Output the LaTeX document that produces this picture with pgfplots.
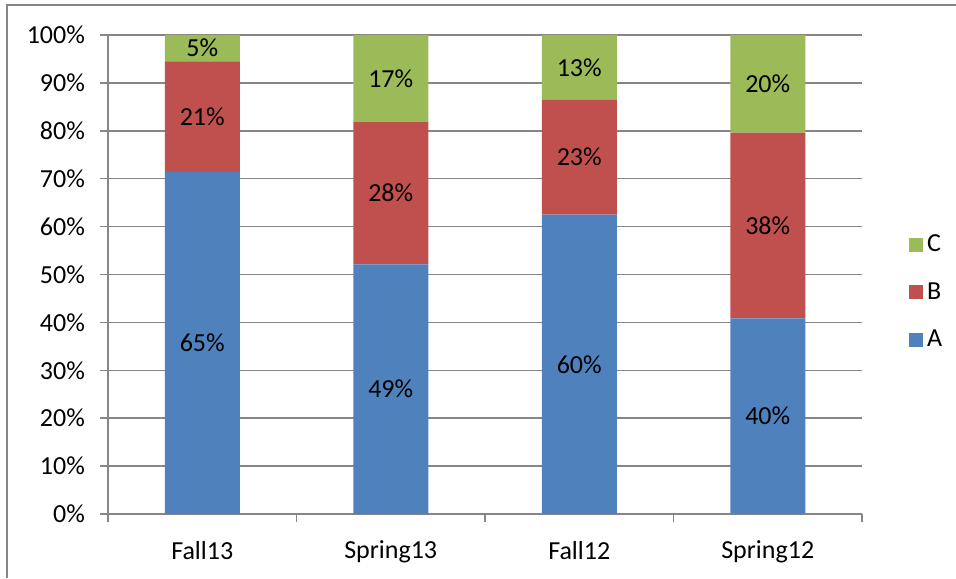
\documentclass[border=0pt]{standalone}
\usepackage{pgfplots}
\pgfplotsset{compat=1.18}
\usepackage{pgfplotstable}
\usepackage{fontspec}
\setmainfont{Carlito}
\definecolor{barA}{HTML}{4F81BD}
\definecolor{barB}{HTML}{C0504D}
\definecolor{barC}{HTML}{9BBB59}
\definecolor{axgray}{HTML}{868686}

% shares in % of each column (raw values 65/21/5 etc. scaled to 100)
\pgfplotstableread{
x  A      B      C
0  71.43  23.08  5.49
1  52.13  29.79  18.08
2  62.50  23.96  13.54
3  40.82  38.78  20.40
}\shares

% label positions (middle of each segment) and the printed values
\pgfplotstableread{
x  y      lab
0  35.71  65
0  82.97  21
0  97.25  5
1  26.06  49
1  67.02  28
1  90.96  17
2  31.25  60
2  74.48  23
2  93.23  13
3  20.41  40
3  60.20  38
3  89.80  20
}\labels

\begin{document}
\begin{tikzpicture}
\path[use as bounding box] (0,0) rectangle (478pt,289pt);
\draw[axgray, line width=1pt] (3.5pt,0) -- (3.5pt,286.5pt) -- (478pt,286.5pt);
\begin{axis}[
    at={(54pt,32pt)}, anchor=south west,
    scale only axis,
    width=377pt, height=239.5pt,
    ybar stacked,
    bar width=37.5pt,
    xmin=-0.5, xmax=3.5,
    ymin=0, ymax=100,
    xtick={0,1,2,3},
    xticklabels={Fall13, Spring13, Fall12, Spring12},
    minor xtick={-0.5,0.5,1.5,2.5,3.5},
    major x tick style={draw=none},
    ytick={0,10,...,100},
    yticklabel={\pgfmathprintnumber{\tick}\%},
    /pgf/number format/assume math mode=true,
    tick align=outside,
    major tick length=4pt,
    minor tick length=4pt,
    tick style={axgray, line width=0.75pt},
    axis x line*=bottom,
    axis y line*=left,
    axis line style={axgray, line width=0.75pt, -},
    ymajorgrids=true,
    major grid style={axgray, line width=0.75pt},
    tick label style={font=\fontsize{13}{15}\selectfont},
    xticklabel style={yshift=-6pt},
    yticklabel style={xshift=-4pt},
    legend style={draw=none, fill=none, at={(1.054,0.463)}, anchor=west,
                  font=\fontsize{13}{15}\selectfont, row sep=10pt,
                  legend cell align=left},
    legend image code/.code={\fill[#1] (0pt,-3.5pt) rectangle (7pt,3.5pt);},
    reverse legend,
    clip=false,
]
\addplot[fill=barA, draw=none] table[x=x, y=A] {\shares};
\addplot[fill=barB, draw=none] table[x=x, y=B] {\shares};
\addplot[fill=barC, draw=none] table[x=x, y=C] {\shares};
\legend{A, B, C}
\end{axis}
\begin{axis}[
    at={(54pt,32pt)}, anchor=south west,
    scale only axis,
    width=377pt, height=239.5pt,
    xmin=-0.5, xmax=3.5,
    ymin=0, ymax=100,
    hide axis,
    clip=false,
]
\addplot[draw=none, mark=none,
    nodes near coords={\pgfplotspointmeta\%},
    point meta=explicit symbolic,
    every node near coord/.style={anchor=center, font=\fontsize{13}{15}\selectfont, text=black},
] table[x=x, y=y, meta=lab] {\labels};
\end{axis}
\end{tikzpicture}
\end{document}
